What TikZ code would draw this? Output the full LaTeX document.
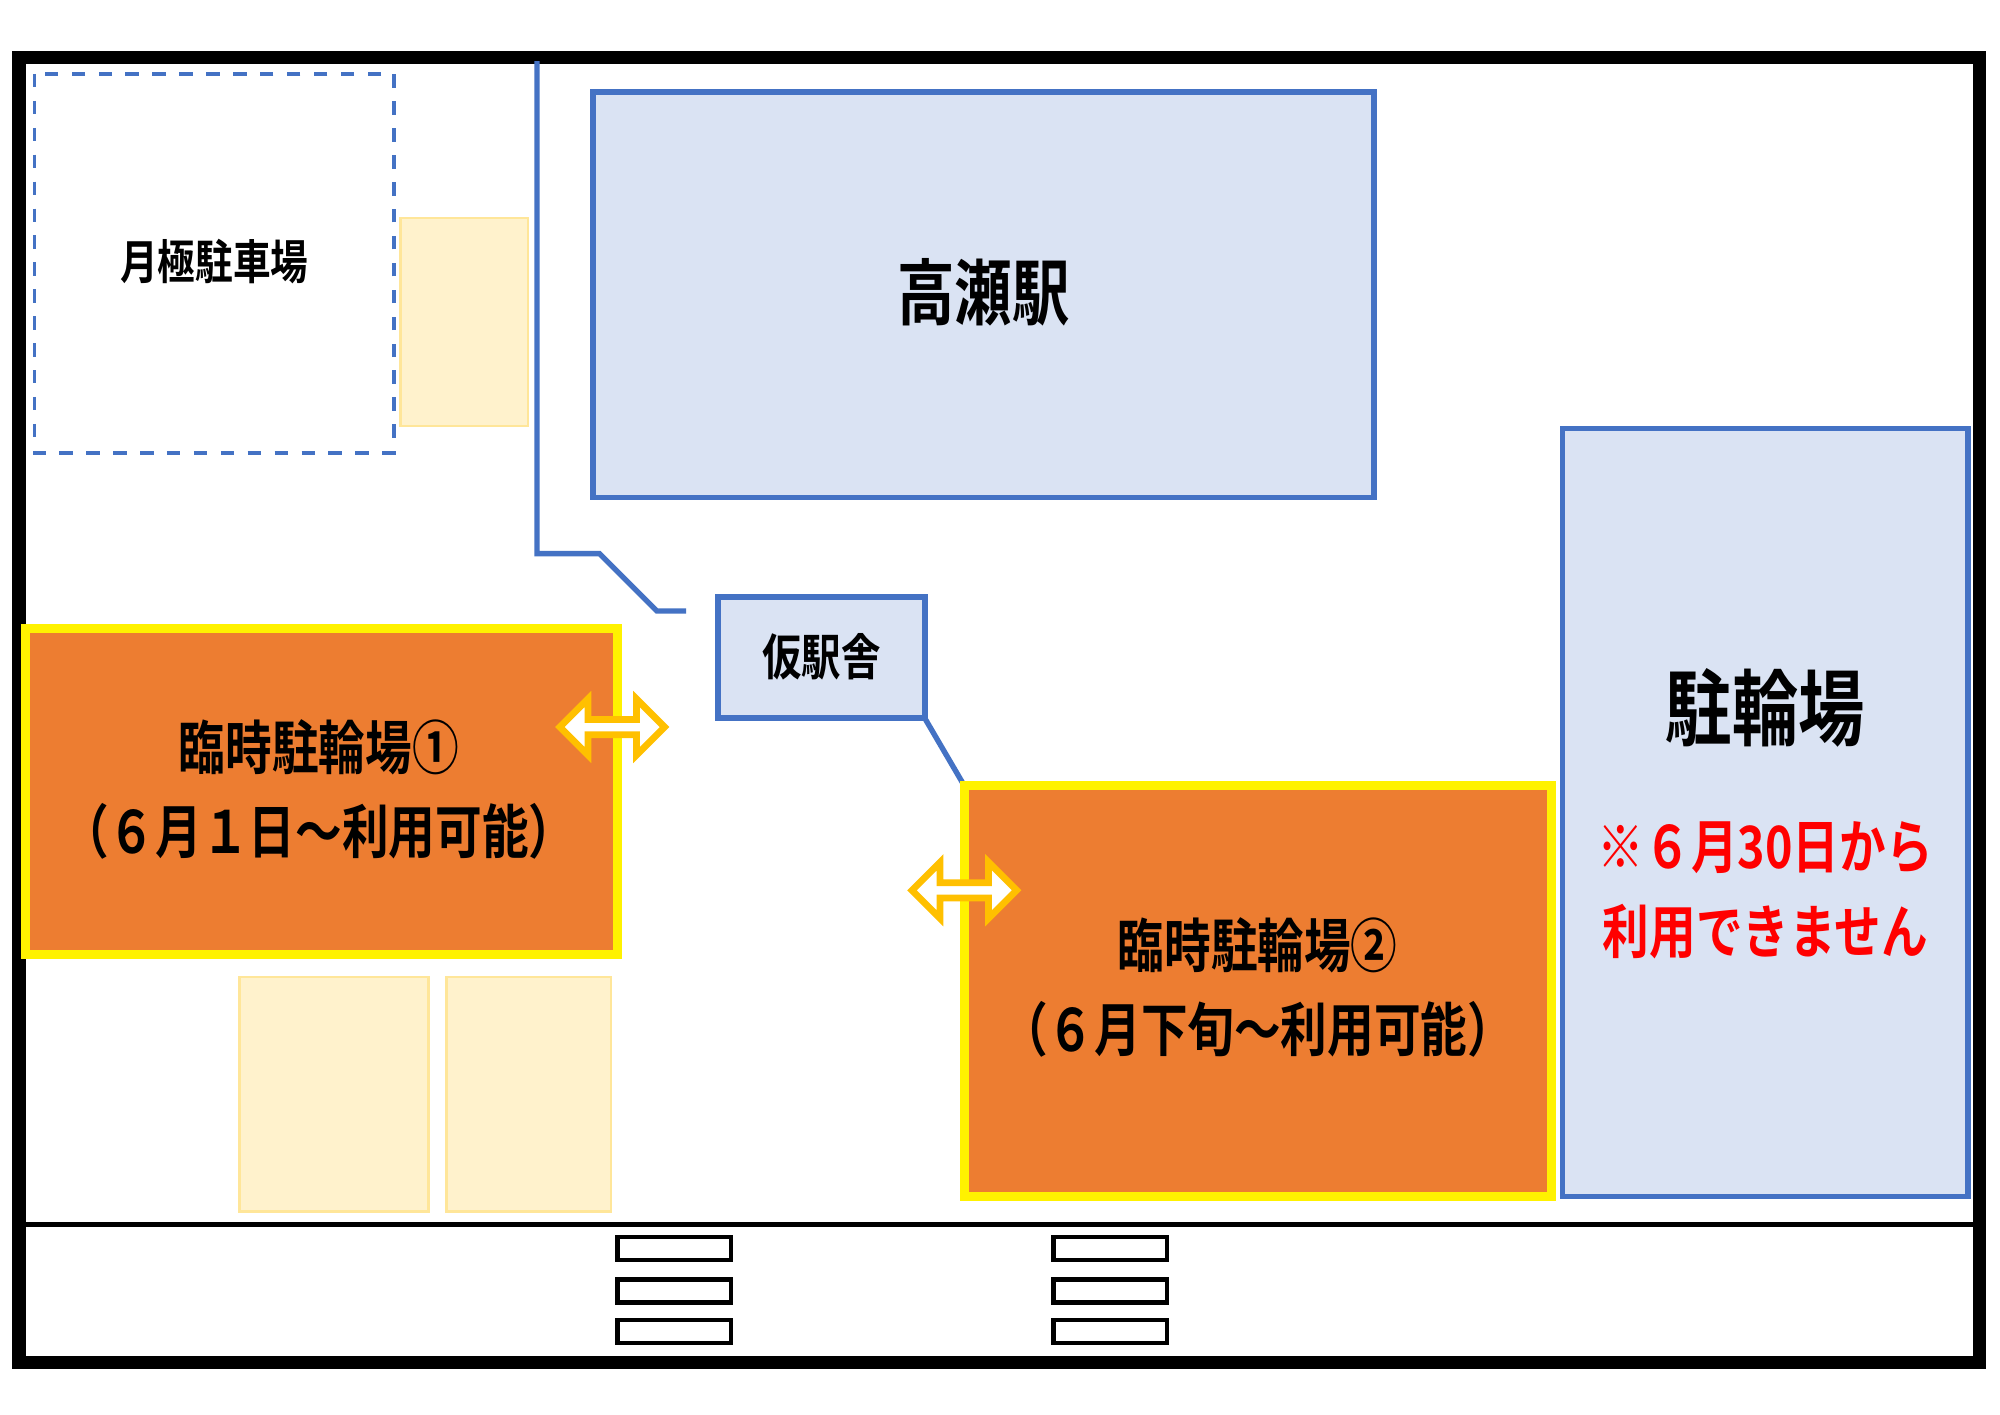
\documentclass[tikz,border=0pt]{standalone}
\usepackage{fontspec}
\setmainfont{Noto Sans CJK JP}[BoldFont={Noto Sans CJK JP Bold}]
\usetikzlibrary{positioning}
\definecolor{bluefill}{HTML}{DAE3F3}
\definecolor{blueline}{HTML}{4472C4}
\definecolor{orangefill}{HTML}{ED7D31}
\definecolor{palefill}{HTML}{FFF2CC}
\definecolor{paleline}{HTML}{FFE699}
\definecolor{arrowline}{HTML}{FFC000}
\tikzset{
  building/.style={draw=blueline, fill=bluefill, line width=1.3pt},
  tempbike/.style={draw=yellow, fill=orangefill, line width=2pt},
  palebox/.style={draw=paleline, fill=palefill, line width=0.6pt},
  stripe/.style={draw=black, line width=1pt},
  label/.style={font=\bfseries\fontsize{#1pt}{1.45\dimexpr #1pt\relax}\selectfont, align=center, xscale=0.8},
  label/.default=12,
}
\newcommand{\fatarrow}[2]{% center x, center y
  \draw[arrowline, fill=white, line width=1.5pt]
    (#1-41,#2) -- (#1-19,#2-22) -- (#1-19,#2-6) -- (#1+19,#2-6) -- (#1+19,#2-22)
    -- (#1+41,#2) -- (#1+19,#2+22) -- (#1+19,#2+6) -- (#1-19,#2+6) -- (#1-19,#2+22) -- cycle;}
\begin{document}
\begin{tikzpicture}[x=0.01cm, y=-0.01cm]
  \useasboundingbox (0,0) rectangle (1568,1109);
  \fill[white] (0,0) rectangle (1568,1109);

  % Frame and road
  \draw[line width=3pt] (15,45) rectangle (1552,1068);
  \draw[line width=1.3pt] (15,960) -- (1552,960);
  \foreach \x in {484,826} {
    \foreach \y in {970,1003,1035}
      \draw[stripe] (\x,\y) rectangle ++(89,18);
  }

  % Parking
  \draw[blueline, dashed, line width=0.8pt] (27,58) rectangle (309,355);
  \node[label=10.5] (monthly) at (168,205) {月極駐車場};
  \draw[palebox] (314,171) rectangle (414,334);
  \draw[palebox] (188,766) rectangle (336,950);
  \draw[palebox] (350,766) rectangle (479,950);

  % Station
  \draw[building] (465,72) rectangle (1077,390);
  \node[label=16] (station) at (771,229) {高瀬駅};
  \draw[blueline, line width=1.2pt] (421,48) -- (421,434) -- (470,434) -- (515,479) -- (538,479);
  \draw[building] (563,468) rectangle (725,563);
  \node[label=11] (temp) at (644,515) {仮駅舎};
  \draw[blueline, line width=1.2pt] (725,563) -- (756,616);

  % Bicycle parking
  \draw[building] (1225,336) rectangle (1543,938);
  \node[label=18.5] (bike) at (1384,555) {駐輪場};
  \node[label=13, text=red] (notice) at (1384,698)
    {※６月30日から\\利用できません};

  % Temporary bicycle parking
  \draw[tempbike] (20,493) rectangle (484,748);
  \node[label=13] (tempone) at (250,619)
    {臨時駐輪場①\\（６月１日～利用可能）};
  \draw[tempbike] (756,616) rectangle (1216,938);
  \node[label=13] (temptwo) at (986,774)
    {臨時駐輪場②\\（６月下旬～利用可能）};

  % Access arrows
  \fatarrow{480}{570}
  \fatarrow{756}{698}
\end{tikzpicture}
\end{document}
